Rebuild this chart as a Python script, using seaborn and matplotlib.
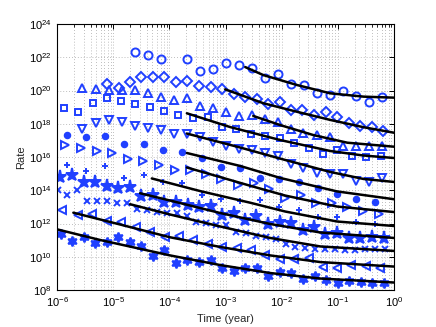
import numpy as np
import matplotlib
matplotlib.use("Agg")
import matplotlib.pyplot as plt
import seaborn as sns
from matplotlib.ticker import FixedLocator, LogLocator, NullLocator, NullFormatter

# ---------------- data (log10 of time in years, log10 of rate) ----------------
circ_t = [-4.610, -4.383, -4.146, -3.688, -3.451, -3.225, -2.993, -2.761, -2.529, -2.305,
          -2.066, -1.834, -1.610, -1.371, -1.146, -0.907, -0.676, -0.451, -0.212]
circ_r = [22.33, 22.12, 21.88, 21.89, 21.19, 21.28, 21.64, 21.52, 21.34, 20.73,
          20.99, 20.37, 20.33, 19.87, 19.73, 19.99, 19.67, 19.29, 19.63]

diam_t = [-5.103, -4.900, -4.699, -4.503, -4.289, -4.087, -3.879, -3.683, -3.472, -3.264,
          -3.055, -2.857, -2.645, -2.444, -2.239, -2.030, -1.829, -1.638, -1.431, -1.210,
          -1.014, -0.807, -0.599, -0.390, -0.194]
diam_r = [20.39, 20.13, 20.53, 20.79, 20.79, 20.83, 20.53, 20.57, 20.27, 20.19,
          20.07, 19.79, 19.63, 19.49, 19.20, 19.33, 18.83, 18.83, 18.53, 18.72,
          18.42, 18.03, 17.86, 17.82, 17.56]

tri_t = [-5.549, -5.310, -5.073, -4.847, -4.610, -4.387, -4.146, -3.911, -3.688, -3.455,
         -3.225, -2.996, -2.759, -2.529, -2.305, -2.066, -1.838, -1.615, -1.378, -1.146,
         -0.914, -0.674, -0.451, -0.212]
up_r = [20.18, 20.07, 20.03, 20.03, 20.03, 19.83, 19.61, 19.45, 19.53, 19.08,
        18.93, 18.71, 18.45, 18.54, 18.30, 18.12, 17.70, 17.43, 17.34, 17.22,
        16.65, 16.65, 16.69, 16.66]
down_r = [17.67, 18.06, 18.24, 18.09, 17.86, 17.73, 17.64, 17.37, 17.40, 17.22,
          16.89, 16.65, 16.49, 16.40, 16.26, 16.06, 15.58, 15.32, 15.06, 14.96,
          14.98, 14.57, 14.48, 14.75]

sq_t = [-5.875, -5.620, -5.364, -5.109, -4.859, -4.604, -4.342, -4.087, -3.838, -3.576,
        -3.317, -3.064, -2.809, -2.547, -2.289, -2.037, -1.788, -1.520, -1.264, -1.014,
        -0.756, -0.492, -0.234]
sq_r = [18.93, 18.69, 19.23, 19.53, 19.39, 19.19, 18.99, 18.79, 18.53, 18.33,
        18.39, 17.82, 17.70, 17.41, 17.26, 17.16, 16.86, 16.57, 16.17, 16.45,
        16.04, 16.00, 16.09]

dot_t = [-5.827, -5.483, -5.139, -4.800, -4.453, -4.105, -3.766, -3.421, -3.077, -2.738,
         -2.394, -2.055, -1.699, -1.360, -1.014, -0.670, -0.332]
dot_r = [17.32, 17.22, 17.26, 16.76, 16.76, 16.44, 16.30, 15.92, 15.42, 15.32,
         14.75, 14.68, 14.51, 14.15, 13.79, 13.49, 13.32]
plus_r = [15.52, 15.18, 15.44, 14.74, 14.92, 14.51, 14.42, 13.74, 13.50, 13.35,
          13.41, 12.97, 12.84, 12.41, 12.39, 12.07, 11.97]

right_t = [-5.857, -5.572, -5.292, -5.014, -4.734, -4.467, -4.182, -3.906, -3.629, -3.349,
           -3.077, -2.779, -2.501, -2.221, -1.945, -1.656, -1.383, -1.103, -0.836, -0.551,
           -0.273]
right_r = [16.75, 16.57, 16.36, 16.25, 15.88, 15.76, 15.52, 15.22, 15.22, 14.96,
           14.66, 14.32, 14.45, 14.06, 13.52, 13.71, 13.25, 13.22, 12.97, 12.77,
           12.55]

star_t = [-5.947, -5.738, -5.528, -5.317, -5.114, -4.907, -4.699, -4.503, -4.298, -4.087,
          -3.879, -3.670, -3.469, -3.264, -3.059, -2.857, -2.649, -2.453, -2.244, -2.037,
          -1.834, -1.627, -1.431, -1.223, -1.014, -0.807, -0.599, -0.390, -0.184]
star_r = [14.77, 14.94, 14.51, 14.51, 14.26, 14.12, 14.17, 13.65, 13.74, 13.28,
          13.31, 13.11, 12.97, 13.05, 12.51, 12.61, 12.21, 12.45, 11.97, 12.11,
          12.01, 11.61, 11.81, 11.37, 11.45, 11.11, 11.15, 11.17, 11.11]

cross_t = [-5.990, -5.816, -5.638, -5.465, -5.287, -5.109, -4.936, -4.758, -4.574, -4.401,
           -4.223, -4.045, -3.866, -3.692, -3.522, -3.344, -3.166, -2.988, -2.809, -2.631,
           -2.453, -2.275, -2.096, -1.927, -1.758, -1.579, -1.401, -1.223, -1.045, -0.866,
           -0.688, -0.510, -0.332, -0.153]
cross_r = [14.00, 13.71, 14.00, 13.34, 13.34, 13.34, 13.23, 13.23, 12.89, 12.81,
           12.71, 12.65, 12.65, 12.48, 12.11, 12.05, 11.91, 11.91, 11.51, 11.41,
           11.25, 11.17, 11.05, 10.77, 10.60, 10.51, 10.45, 10.45, 10.45, 10.41,
           10.41, 10.45, 10.45, 10.45]

left_t = [-5.906, -5.631, -5.371, -5.109, -4.859, -4.597, -4.342, -4.075, -3.831, -3.570,
          -3.314, -3.064, -2.804, -2.547, -2.292, -2.025, -1.788, -1.520, -1.264, -1.014,
          -0.759, -0.497, -0.242]
left_r = [12.83, 12.53, 12.58, 12.18, 12.08, 11.77, 11.51, 11.17, 11.23, 11.01,
          10.77, 10.60, 10.50, 10.41, 10.11, 9.85, 9.85, 9.91, 9.40, 9.31,
          9.50, 9.44, 9.31]

hexa_t = [-5.929, -5.727, -5.522, -5.317, -5.109, -4.907, -4.699, -4.497, -4.294, -4.087,
          -3.882, -3.679, -3.469, -3.260, -3.059, -2.857, -2.654, -2.447, -2.239, -2.030,
          -1.829, -1.620, -1.415, -1.209, -1.000, -0.799, -0.590, -0.385, -0.184]
hexa_r = [11.37, 10.97, 11.16, 10.81, 10.89, 11.17, 10.91, 10.63, 10.05, 10.41,
          9.65, 9.79, 9.68, 9.80, 9.31, 9.12, 9.31, 9.35, 8.87, 9.11,
          9.04, 8.66, 8.82, 8.60, 8.43, 8.57, 8.49, 8.40, 8.42]

# fitted curves
fit_circ_t = [-2.649, -2.328, -1.727, -1.134, -0.540, 0.0]
fit_circ_r = [21.41, 20.93, 20.33, 19.83, 19.63, 19.57]
fit_diam_t = [-3.005, -2.323, -1.727, -1.134, -0.540, 0.0]
fit_diam_r = [20.07, 19.23, 18.72, 18.23, 17.79, 17.46]
fit_up_t = [-2.506, -2.025, -1.437, -0.831, 0.0]
fit_up_r = [18.47, 17.92, 17.32, 16.86, 16.62]
fit_sq_t = [-3.688, -2.916, -2.025, -1.134, -0.545, 0.0]
fit_sq_r = [18.63, 17.80, 17.02, 16.36, 16.09, 15.94]
fit_down_t = [-3.688, -2.738, -1.936, -1.134, -0.545, 0.0]
fit_down_r = [17.41, 16.57, 15.82, 15.10, 14.68, 14.50]
fit_dot_t = [-3.688, -2.738, -2.025, -1.014, 0.0]
fit_dot_r = [16.24, 15.46, 14.74, 13.93, 13.46]
fit_right_t = [-3.688, -2.560, -1.936, -1.014, 0.0]
fit_right_r = [15.37, 14.27, 13.68, 13.02, 12.69]
fit_plus_t = [-4.312, -3.451, -2.560, -1.936, -1.014, 0.0]
fit_plus_r = [14.71, 13.95, 13.25, 12.72, 12.12, 11.85]
fit_star_t = [-4.520, -3.986, -3.094, -2.203, -1.312, 0.0]
fit_star_r = [13.82, 13.38, 12.63, 11.97, 11.46, 11.13]
fit_cross_t = [-4.699, -3.986, -3.094, -2.203, -1.312, 0.0]
fit_cross_r = [13.16, 12.54, 11.82, 11.13, 10.62, 10.35]
fit_left_t = [-5.709, -4.877, -3.986, -3.094, -2.203, -1.312, 0.0]
fit_left_r = [12.65, 11.94, 11.17, 10.59, 10.08, 9.68, 9.41]
fit_hexa_t = [-6.0, -5.234, -3.986, -3.094, -2.203, -1.312, 0.0]
fit_hexa_r = [11.65, 11.01, 10.08, 9.50, 9.02, 8.69, 8.45]

x_tick_exp = [-6, -5, -4, -3, -2, -1, 0]
y_tick_exp = [8, 10, 12, 14, 16, 18, 20, 22, 24]
x_label = "Time (year)"
y_label = "Rate"

# ---------------- styling ----------------
sns.set_theme(style="white")
plt.rcParams["font.family"] = ["Liberation Sans", "DejaVu Sans"]
plt.rcParams["mathtext.fontset"] = "custom"
plt.rcParams["mathtext.rm"] = "Liberation Sans"
plt.rcParams["mathtext.it"] = "Liberation Sans:italic"
plt.rcParams["mathtext.bf"] = "Liberation Sans:bold"

BLUE = "#2040ff"
HEXAGRAM = (6, 1, 0)

fig = plt.figure(figsize=(4.36, 3.27), dpi=100)
ax = fig.add_axes([57 / 436, 1 - 290 / 327, (394 - 57) / 436, (290 - 24) / 327])
ax.set_xscale("log")
ax.set_yscale("log")

series = [
    (circ_t, circ_r, "o", 5.8, False),
    (diam_t, diam_r, "D", 5.0, False),
    (tri_t, up_r, "^", 6.0, False),
    (sq_t, sq_r, "s", 5.0, False),
    (tri_t, down_r, "v", 6.0, False),
    (dot_t, dot_r, "o", 4.0, True),
    (right_t, right_r, ">", 6.0, False),
    (dot_t, plus_r, "+", 5.0, True),
    (star_t, star_r, "*", 9.5, True),
    (cross_t, cross_r, "x", 4.2, True),
    (left_t, left_r, "<", 6.0, False),
    (hexa_t, hexa_r, HEXAGRAM, 7.0, True),
]

for t, r, mk, ms, filled in series:
    sns.lineplot(x=10.0 ** np.array(t), y=10.0 ** np.array(r), ax=ax,
                 linestyle="none", marker=mk, markersize=ms,
                 markerfacecolor=BLUE if filled else "none",
                 markeredgecolor=BLUE, markeredgewidth=1.4,
                 color=BLUE, sort=False, errorbar=None, zorder=2)

fits = [
    (fit_circ_t, fit_circ_r), (fit_diam_t, fit_diam_r), (fit_up_t, fit_up_r),
    (fit_sq_t, fit_sq_r), (fit_down_t, fit_down_r), (fit_dot_t, fit_dot_r),
    (fit_right_t, fit_right_r), (fit_plus_t, fit_plus_r), (fit_star_t, fit_star_r),
    (fit_cross_t, fit_cross_r), (fit_left_t, fit_left_r), (fit_hexa_t, fit_hexa_r),
]
for t, r in fits:
    sns.lineplot(x=10.0 ** np.array(t), y=10.0 ** np.array(r), ax=ax,
                 color="black", linewidth=1.8, sort=False, errorbar=None, zorder=3)

ax.set_xlim(1e-6, 1e0)
ax.set_ylim(1e8, 1e24)

ax.xaxis.set_major_locator(FixedLocator([10.0 ** e for e in x_tick_exp]))
ax.xaxis.set_minor_locator(LogLocator(base=10, subs=np.arange(2, 10), numticks=20))
ax.xaxis.set_minor_formatter(NullFormatter())
ax.yaxis.set_major_locator(FixedLocator([10.0 ** e for e in y_tick_exp]))
ax.yaxis.set_minor_locator(NullLocator())

grid_kw = dict(color="#a8a8a8", linestyle=(0, (1, 2.5)), linewidth=0.6)
ax.grid(True, which="major", axis="both", **grid_kw)
ax.grid(True, which="minor", axis="x", **grid_kw)
ax.set_axisbelow(True)

ax.tick_params(which="both", direction="in", top=True, right=True,
               labelsize=8, colors="black")
ax.tick_params(axis="x", which="major", pad=4)
ax.tick_params(axis="y", which="major", pad=4)
ax.tick_params(which="major", length=3.5, width=0.7)
ax.tick_params(which="minor", length=2, width=0.6)
for s in ax.spines.values():
    s.set_color("black")
    s.set_linewidth(0.8)

ax.set_xlabel(x_label, fontsize=8, labelpad=3)
ax.set_ylabel(y_label, fontsize=8, labelpad=2)

fig.savefig("out.png", dpi=100)
